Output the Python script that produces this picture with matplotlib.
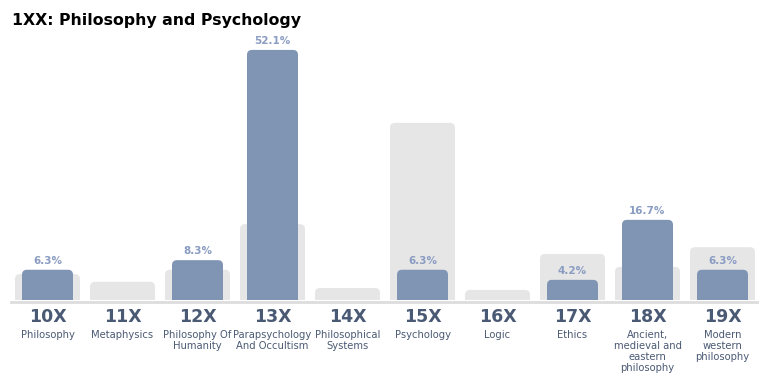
import matplotlib
matplotlib.use("Agg")
import matplotlib.pyplot as plt
from matplotlib.patches import FancyBboxPatch

# Dewey classes 10X - 19X
codes = ["10X", "11X", "12X", "13X", "14X", "15X", "16X", "17X", "18X", "19X"]
names = ["Philosophy", "Metaphysics", "Philosophy Of\nHumanity",
         "Parapsychology\nAnd Occultism", "Philosophical\nSystems", "Psychology",
         "Logic", "Ethics", "Ancient,\nmedieval and\neastern\nphilosophy",
         "Modern\nwestern\nphilosophy"]
share = [6.3, 0, 8.3, 52.1, 0, 6.3, 0, 4.2, 16.7, 6.3]
baseline_share = [5.4, 3.8, 6.3, 15.8, 2.5, 36.9, 2.1, 9.6, 6.9, 11.0]

BLUE = "#8094b3"
GRAY = "#e6e6e6"
LABEL = "#8a9cc2"
DARK = "#4b5a74"

W, H = 768, 383
fig = plt.figure(figsize=(W / 100, H / 100), dpi=100)
ax = fig.add_axes([10 / W, 1 - 300 / H, 750 / W, 260 / H])
ax.set_xlim(-0.5, 9.5)
ax.set_ylim(0, 260 / 4.8)
ax.axis("off")

x = list(range(len(codes)))
ymax = 260 / 4.8
# data units per pixel
px_x = 10 / 750
px_y = ymax / 260
rad = 5


def round_top(bars, color, z):
    for b in bars:
        h = b.get_height()
        if h <= 0:
            b.remove()
            continue
        x0, w = b.get_x(), b.get_width()
        r = rad * px_x
        p = FancyBboxPatch((x0 + r, -2 * rad * px_y), w - 2 * r, h + 2 * rad * px_y - rad * px_y,
                           boxstyle=f"round,pad={r}", mutation_aspect=px_y / px_x,
                           fc=color, ec="none", zorder=z, clip_on=True)
        ax.add_patch(p)
        b.remove()


g = ax.bar(x, baseline_share, width=65 / 75, color=GRAY)
round_top(g, GRAY, 1)
b = ax.bar(x, share, width=51 / 75, color=BLUE)
round_top(b, BLUE, 2)

for i, v in enumerate(share):
    if v > 0:
        ax.annotate(f"{v}%", (i, v), xytext=(0, 3), textcoords="offset points",
                    ha="center", va="bottom", fontsize=7.5, fontweight="bold", color=LABEL)

# baseline rule
fig.add_artist(plt.Line2D([11 / W, 757 / W], [1 - 301.5 / H] * 2, color="#dddddd", lw=2))

for i in x:
    ax.text(i, -3.6, codes[i], ha="center", va="center", fontsize=12.5,
            fontweight="heavy", color=DARK, clip_on=False)
    ax.text(i, -6.3, names[i], ha="center", va="top", fontsize=7.2,
            color=DARK, linespacing=1.12, clip_on=False)

fig.text(12 / W, 1 - 20 / H, "1XX: Philosophy and Psychology", ha="left", va="center",
         fontsize=11.3, fontweight="heavy", color="black")

fig.savefig("out.png", dpi=100)
